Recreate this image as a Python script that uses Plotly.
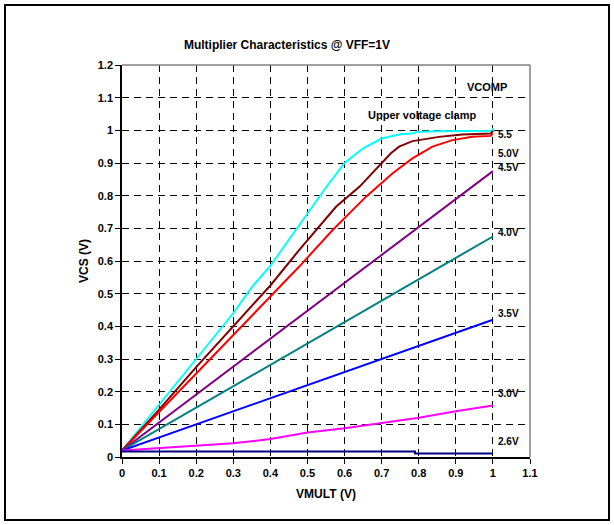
import plotly.graph_objects as go

# ---- data ----
x_cyan = [0, 0.05, 0.1, 0.15, 0.2, 0.25, 0.3, 0.35, 0.4, 0.45, 0.5, 0.55, 0.6, 0.65, 0.7, 0.75, 0.78, 0.8, 0.85, 0.9, 0.95, 1.0, 1.0]
y_cyan = [0.02, 0.09, 0.16, 0.23, 0.30, 0.37, 0.44, 0.52, 0.585, 0.665, 0.745, 0.825, 0.90, 0.945, 0.975, 0.988, 0.99, 0.996, 0.997, 0.998, 0.998, 0.999, 1.008]

x_maroon = [0, 0.1, 0.2, 0.3, 0.4, 0.478, 0.532, 0.577, 0.64, 0.702, 0.725, 0.747, 0.783, 0.855, 0.917, 0.994, 1.0]
y_maroon = [0.02, 0.145, 0.275, 0.40, 0.525, 0.634, 0.705, 0.766, 0.827, 0.904, 0.93, 0.95, 0.967, 0.98, 0.987, 0.99, 0.998]

x_red = [0, 0.1, 0.2, 0.3, 0.4, 0.478, 0.568, 0.658, 0.729, 0.783, 0.837, 0.891, 0.944, 0.994, 1.0]
y_red = [0.02, 0.138, 0.256, 0.374, 0.492, 0.583, 0.695, 0.797, 0.868, 0.914, 0.95, 0.97, 0.98, 0.983, 0.99]

x_purple = [0, 1.0]
y_purple = [0.02, 0.875]

x_teal = [0, 1.0]
y_teal = [0.02, 0.675]

x_blue = [0, 1.0]
y_blue = [0.02, 0.42]

x_magenta = [0, 0.1, 0.2, 0.3, 0.4, 0.5, 0.6, 0.7, 0.8, 0.9, 1.0]
y_magenta = [0.02, 0.027, 0.034, 0.042, 0.055, 0.075, 0.088, 0.105, 0.12, 0.14, 0.158]

x_navy = [0, 0.79, 0.79, 1.0]
y_navy = [0.017, 0.017, 0.011, 0.011]

series = [
    ("cyan", x_cyan, y_cyan, "#00FFFF"),
    ("maroon", x_maroon, y_maroon, "#800000"),
    ("red", x_red, y_red, "#FF0000"),
    ("purple", x_purple, y_purple, "#800080"),
    ("teal", x_teal, y_teal, "#008080"),
    ("blue", x_blue, y_blue, "#0000FF"),
    ("magenta", x_magenta, y_magenta, "#FF00FF"),
    ("navy", x_navy, y_navy, "#000080"),
]

# VCOMP labels
label_texts = ["5.5", "5.0V", "4.5V", "4.0V", "3.5V", "3.0V", "2.6V"]
label_y = [0.986, 0.93, 0.885, 0.686, 0.44, 0.193, 0.046]
label_x = 1.008

x_ticks = [0, 0.1, 0.2, 0.3, 0.4, 0.5, 0.6, 0.7, 0.8, 0.9, 1.0, 1.1]
x_ticklabels = ["0", "0.1", "0.2", "0.3", "0.4", "0.5", "0.6", "0.7", "0.8", "0.9", "1", "1.1"]
y_ticks = [0, 0.1, 0.2, 0.3, 0.4, 0.5, 0.6, 0.7, 0.8, 0.9, 1.0, 1.1, 1.2]
y_ticklabels = ["0", "0.1", "0.2", "0.3", "0.4", "0.5", "0.6", "0.7", "0.8", "0.9", "1", "1.1", "1.2"]

FONT = "Liberation Sans, Arial, sans-serif"

fig = go.Figure()
for name, xs, ys, col in series:
    fig.add_trace(go.Scatter(x=xs, y=ys, mode="lines", name=name,
                             line=dict(color=col, width=2), showlegend=False))

for t, yv in zip(label_texts, label_y):
    fig.add_annotation(x=label_x, y=yv, text="<b>%s</b>" % t, showarrow=False,
                       xanchor="left", yanchor="middle",
                       font=dict(family=FONT, size=10, color="black"))

fig.add_annotation(x=1.043, y=1.133, text="<b>VCOMP</b>", showarrow=False,
                   xanchor="right", yanchor="middle",
                   font=dict(family=FONT, size=11, color="black"))
fig.add_annotation(x=0.659, y=1.047, text="<b>Upper voltage clamp</b>", showarrow=False,
                   xanchor="left", yanchor="middle",
                   font=dict(family=FONT, size=11, color="black"))

axis_common = dict(
    showgrid=True, gridcolor="black", griddash="7px,5px", gridwidth=1,
    ticks="outside", ticklen=5, tickcolor="black",
    showline=True, linecolor="black", linewidth=1.5,
    zeroline=False,
    tickfont=dict(family=FONT, size=11, color="black"),
)

fig.update_xaxes(range=[0, 1.1], tickvals=x_ticks, ticktext=["<b>%s</b>" % t for t in x_ticklabels],
                 title=dict(text="<b>VMULT (V)</b>", font=dict(family=FONT, size=12, color="black"), standoff=12),
                 **axis_common)
fig.update_yaxes(range=[0, 1.2], tickvals=y_ticks, ticktext=["<b>%s</b>" % t for t in y_ticklabels],
                 title=dict(text="<b>VCS (V)</b>", font=dict(family=FONT, size=12, color="black"), standoff=7),
                 **axis_common)

# plot-area frame (top/right grey)
fig.add_shape(type="line", xref="paper", yref="paper", x0=0, x1=1, y0=1, y1=1,
              line=dict(color="#808080", width=1.5))
fig.add_shape(type="line", xref="paper", yref="paper", x0=1, x1=1, y0=0, y1=1,
              line=dict(color="#808080", width=1.5))

# outer chart border
L, R, T, B = 122, 84, 65, 68
W, H = 614, 525
pw, ph = W - L - R, H - T - B
fig.add_shape(type="rect", xref="paper", yref="paper",
              x0=(5 - L) / pw, x1=(609 - L) / pw,
              y0=(H - B - 520) / ph, y1=(H - B - 5) / ph,
              line=dict(color="black", width=2), fillcolor="rgba(0,0,0,0)", layer="below")

fig.update_layout(
    width=W, height=H,
    margin=dict(l=L, r=R, t=T, b=B),
    paper_bgcolor="white", plot_bgcolor="white",
    title=dict(text="<b>Multiplier Characteristics @ VFF=1V</b>", x=287 / W, xanchor="center",
               y=1 - 45 / H, yanchor="middle",
               font=dict(family=FONT, size=12, color="black")),
    showlegend=False,
)

fig.write_html("out.html", config={"displayModeBar": False},
               post_script="document.body.style.margin='0';")
